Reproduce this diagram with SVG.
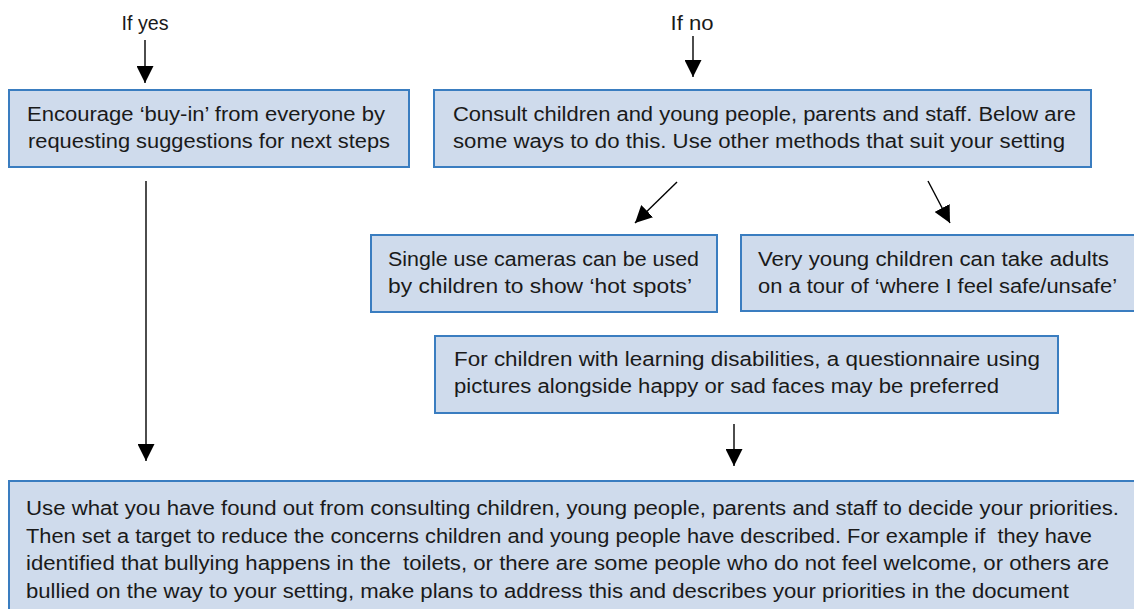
<svg xmlns="http://www.w3.org/2000/svg" width="1134" height="609" viewBox="0 0 1134 609">
  <style>
    .box { fill: #cfdbec; stroke: #3a7dc0; stroke-width: 2; }
    .t { font-family: "Liberation Sans", Arial, sans-serif; font-size: 20px; fill: #1a1a1a; white-space: pre; }
    .lbl { font-family: "Liberation Sans", Arial, sans-serif; font-size: 20px; fill: #1a1a1a; text-anchor: middle; }
    .conn line { stroke: #000; stroke-width: 1.4; fill: none; marker-end: url(#ah); }
  </style>
  <defs>
    <marker id="ah" viewBox="0 0 17 17" refX="17" refY="8.5" markerWidth="17" markerHeight="17" markerUnits="userSpaceOnUse" orient="auto">
      <path d="M0,0 L17,8.5 L0,17 z" fill="#000"/>
    </marker>
  </defs>
  <rect width="1134" height="609" fill="#fff"/>

  <g id="label-yes"><text class="lbl" x="145" y="30" textLength="47" lengthAdjust="spacingAndGlyphs">If yes</text></g>
  <g id="label-no"><text class="lbl" x="692" y="30" textLength="43" lengthAdjust="spacingAndGlyphs">If no</text></g>

  <g id="node-buyin">
    <rect class="box" x="9" y="90" width="400" height="77"/>
    <text class="t" x="27" y="121" textLength="358" lengthAdjust="spacingAndGlyphs">Encourage ‘buy-in’ from everyone by</text>
    <text class="t" x="28" y="148" textLength="362" lengthAdjust="spacingAndGlyphs">requesting suggestions for next steps</text>
  </g>

  <g id="node-consult">
    <rect class="box" x="434" y="90" width="657" height="77"/>
    <text class="t" x="453" y="121" textLength="623" lengthAdjust="spacingAndGlyphs">Consult children and young people, parents and staff. Below are</text>
    <text class="t" x="453" y="148" textLength="612" lengthAdjust="spacingAndGlyphs">some ways to do this. Use other methods that suit your setting</text>
  </g>

  <g id="node-cameras">
    <rect class="box" x="371" y="235" width="346" height="77"/>
    <text class="t" x="388" y="266" textLength="311" lengthAdjust="spacingAndGlyphs">Single use cameras can be used</text>
    <text class="t" x="388" y="293" textLength="304" lengthAdjust="spacingAndGlyphs">by children to show ‘hot spots’</text>
  </g>

  <g id="node-tour">
    <rect class="box" x="741" y="235" width="410" height="76"/>
    <text class="t" x="758" y="266" textLength="351" lengthAdjust="spacingAndGlyphs">Very young children can take adults</text>
    <text class="t" x="758" y="293" textLength="359" lengthAdjust="spacingAndGlyphs">on a tour of ‘where I feel safe/unsafe’</text>
  </g>

  <g id="node-questionnaire">
    <rect class="box" x="435" y="336" width="623" height="77"/>
    <text class="t" x="454" y="366" textLength="586" lengthAdjust="spacingAndGlyphs">For children with learning disabilities, a questionnaire using</text>
    <text class="t" x="454" y="393" textLength="545" lengthAdjust="spacingAndGlyphs">pictures alongside happy or sad faces may be preferred</text>
  </g>

  <g id="node-priorities">
    <rect class="box" x="9" y="481" width="1140" height="140"/>
    <text class="t" x="26" y="515" textLength="1093" lengthAdjust="spacingAndGlyphs">Use what you have found out from consulting children, young people, parents and staff to decide your priorities.</text>
    <text class="t" x="26" y="543" textLength="1066" lengthAdjust="spacingAndGlyphs">Then set a target to reduce the concerns children and young people have described. For example if  they have</text>
    <text class="t" x="26" y="570" textLength="1083" lengthAdjust="spacingAndGlyphs">identified that bullying happens in the  toilets, or there are some people who do not feel welcome, or others are</text>
    <text class="t" x="26" y="598" textLength="1043" lengthAdjust="spacingAndGlyphs">bullied on the way to your setting, make plans to address this and describes your priorities in the document</text>
  </g>

  <g id="connectors" class="conn">
    <line x1="145" y1="40" x2="145" y2="83"/>
    <line x1="693" y1="36" x2="693" y2="77"/>
    <line x1="677" y1="182" x2="635" y2="223"/>
    <line x1="928" y1="181" x2="950" y2="223"/>
    <line x1="146" y1="181" x2="146" y2="461"/>
    <line x1="734" y1="424" x2="734" y2="466"/>
  </g>
</svg>
